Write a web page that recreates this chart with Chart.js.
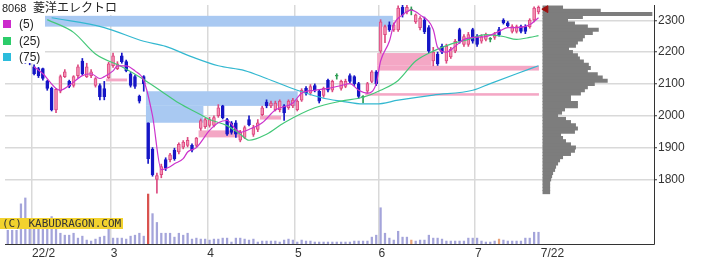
<!DOCTYPE html>
<html>
<head>
<meta charset="utf-8">
<script src="https://cdn.jsdelivr.net/npm/chart.js@4/dist/chart.umd.min.js"></script>
<style>
  html, body { margin: 0; padding: 0; background: #fff; }
</style>
</head>
<body>
<canvas id="graph" width="701" height="259"></canvas>
<script>
// 8068 daily candles, 2022/1/24 .. 2022/7/22 (index = trading day)
const code = '8068';
const name = '菱洋エレクトロ';

const opens  = [2290,2275,2262,2240,2190,2175,2154,2148,2148,2108,2086,2018,2077,2123,2108,2095,2126,2172,2123,2126,
                2095,2095,2085,2120,2157,2148,2188,2170,2132,2123,2061,2123,1978,1895,1800,1815,1862,1862,1892,1886,
                1901,1907,1907,1907,1960,1966,1970,1970,2000,2031,1988,1978,1978,1923,1932,1988,1941,1957,2003,2043,
                2031,2019,2019,2031,2025,2031,2019,2049,2086,2071,2095,2077,2064,2111,2080,2124,2086,2092,2126,2123,
                2101,2058,2077,2108,2138,2203,2255,2286,2270,2270,2341,2326,2332,2295,2277,2301,2277,2172,2194,2218,
                2172,2185,2203,2271,2224,2224,2271,2249,2234,2240,2240,2246,2271,2301,2292,2265,2265,2280,2280,2280,
                2301,2326];
const highs  = [2300,2290,2270,2245,2200,2180,2160,2152,2150,2112,2090,2086,2128,2145,2112,2126,2160,2180,2165,2145,
                2120,2100,2108,2168,2197,2170,2197,2175,2136,2128,2065,2126,1978,1900,1820,1848,1868,1882,1898,1915,
                1922,1932,1912,1932,1990,1992,1995,2000,2035,2033,1992,1982,1985,1954,1968,2000,1970,1988,2030,2050,
                2046,2046,2050,2035,2050,2055,2050,2085,2092,2098,2100,2080,2090,2115,2112,2132,2112,2115,2132,2126,
                2105,2063,2105,2142,2142,2302,2285,2295,2292,2345,2347,2347,2342,2320,2312,2310,2283,2215,2200,2225,
                2225,2215,2240,2275,2255,2262,2275,2255,2255,2260,2246,2262,2278,2305,2296,2286,2285,2285,2286,2305,
                2342,2345];
const lows   = [2270,2255,2235,2190,2165,2160,2128,2120,2112,2080,2015,2010,2072,2120,2088,2090,2120,2128,2120,2120,
                2090,2050,2050,2117,2152,2145,2165,2138,2090,2086,2040,2077,1850,1810,1757,1805,1828,1855,1860,1880,
                1896,1902,1886,1902,1954,1960,1964,1965,1995,1990,1938,1942,1932,1918,1928,1968,1935,1950,2000,2025,
                2025,2015,2012,1985,2020,2025,2015,2045,2065,2065,2075,2040,2058,2075,2075,2115,2080,2088,2102,2095,
                2055,2040,2071,2104,2095,2197,2230,2265,2265,2265,2310,2320,2317,2290,2270,2258,2198,2157,2158,2195,
                2165,2180,2198,2228,2218,2218,2228,2218,2228,2235,2232,2240,2250,2288,2278,2260,2260,2260,2258,2275,
                2295,2320];
const closes = [2280,2262,2240,2195,2175,2168,2132,2126,2117,2086,2018,2083,2123,2138,2092,2123,2154,2132,2154,2138,
                2117,2060,2060,2163,2188,2163,2170,2142,2095,2092,2046,2101,1865,1815,1812,1840,1835,1877,1865,1910,
                1917,1923,1892,1930,1985,1988,1988,1994,2025,1994,1942,1948,1942,1948,1963,1972,1963,1978,2025,2031,
                2040,2040,2046,2009,2046,2049,2046,2080,2071,2092,2080,2046,2086,2080,2108,2124,2108,2108,2108,2101,
                2061,2058,2101,2138,2101,2295,2280,2270,2286,2338,2317,2341,2332,2317,2307,2264,2203,2200,2163,2200,
                2218,2209,2234,2234,2249,2255,2234,2224,2249,2255,2240,2255,2255,2292,2283,2280,2280,2265,2265,2301,
                2338,2341];
// volume, thousand shares
const volumes = [56,56,56,164,188,88,88,80,80,96,112,104,44,36,36,44,24,32,16,12,
                 20,28,32,60,24,24,24,20,32,36,44,32,204,124,88,44,44,44,28,44,
                 36,44,20,24,20,20,16,20,20,24,24,8,24,24,20,16,20,8,12,12,
                 12,12,8,16,20,16,8,16,12,12,8,8,8,8,8,8,8,8,8,12,
                 12,12,12,28,36,148,44,24,16,52,28,28,16,12,16,16,36,24,24,20,
                 12,12,12,12,12,24,24,24,12,8,8,12,20,16,12,12,12,12,24,24,
                 48,48];

// moving averages (day index, price)
const ma5X  = [6,8,11,12,14,17,19,21,22,24,25,27,29,31,33,35,37,38,40,41,43,46,48,50,52,53,55,58,61,65,
               67,70,73,76,78,80,82,84,85,87,88,90,92,94,97,98,100,102,104,106,109,112,114,116,119,121];
const ma5Y  = [2154,2132,2086,2080,2095,2126,2132,2117,2123,2141,2157,2157,2141,2111,2000,1831,1840,1849,1865,1886,
               1900,1954,1978,1985,1957,1948,1957,1978,2018,2040,2071,2080,2086,2095,2101,2080,2071,2101,2172,2234,
               2286,2317,2332,2317,2271,2215,2200,2218,2240,2246,2249,2265,2277,2277,2286,2308];
const ma25X = [9,15,20,26,31,35,39,44,46,50,53,55,59,63,70,76,81,85,89,93,97,101,105,109,113,116,119,121];
const ma25Y = [2302,2262,2194,2154,2114,2077,2040,2003,1988,1969,1942,1923,1942,1978,2025,2046,2058,2080,2111,2172,
               2203,2225,2240,2255,2249,2240,2246,2252];
const ma75X = [10,22,31,36,42,48,54,59,66,72,76,81,84,89,97,106,110,116,121];
const ma75Y = [2308,2277,2234,2218,2185,2157,2142,2117,2080,2055,2046,2037,2037,2049,2065,2080,2101,2132,2157];

// unfilled price windows: from day, to day, low, high, kind
const boxFrom = [-1, 31.5, 31.5, 22.4, 43.5, 57.5, 81.5, 84.2, 84.2];
const boxTo   = [87.8, 66.1, 44.6, 27.2, 53, 62.3, 121.1, 96.6, 121.1];
const boxLow  = [2280, 2031, 1978, 2108, 1932, 1988, 2063, 2157, 2142];
const boxHigh = [2314, 2077, 2031, 2117, 1954, 2000, 2071, 2197, 2157];
const boxKind = ['down','down','down','up','up','up','up','up','up'];

// volume by price
const profPrices = [1760,1770,1780,1790,1800,1810,1820,1830,1840,1850,1860,1870,1880,1890,1900,1910,1920,1930,1940,1950,
                    1960,1970,1980,1990,2000,2010,2020,2030,2040,2050,2060,2070,2080,2090,2100,2110,2120,2130,2140,2150,
                    2160,2170,2180,2190,2200,2210,2220,2230,2240,2250,2260,2270,2280,2290,2300,2310,2320,2330,2340];
const profVols   = [7,7,7,7,8,9,10,12,13,15,17,20,28,32,33,28,23,20,18,32,
                    35,33,28,23,15,19,22,35,35,28,28,38,42,45,52,65,60,55,45,48,
                    46,41,37,35,30,26,33,35,40,42,50,56,45,32,25,40,110,58,20];
const lastMark = 2335;

const tickPos    = [5.5, 23.5, 45.5, 65.5, 84.5, 106.5, 121.5];
const tickLabels = ['22/2', '3', '4', '5', '6', '7', '7/22'];
const priceTicks = [1800, 1900, 2000, 2100, 2200, 2300];

const UP_FILL = '#f590b4', UP_EDGE = '#dc4a80', DN = '#1616c6', DOJI = '#2f9e54';
const VOL = '#a4a4da';
const volMark = { 32: '#d9534f', 92: '#e8a27a', 112: '#e8a27a' };

const idx = opens.map((_, i) => i);
const tone = i => closes[i] > opens[i] ? 'up' : (closes[i] < opens[i] ? 'dn' : 'doji');
const edge = i => ({ up: UP_EDGE, dn: DN, doji: DOJI })[tone(i)];
const fill = i => ({ up: UP_FILL, dn: DN, doji: DOJI })[tone(i)];

Chart.defaults.font.family = "'Liberation Sans', Arial, sans-serif";

const noPad = s => { s.paddingTop = 0; s.paddingBottom = 0; s.paddingLeft = 0; s.paddingRight = 0; };

const overlay = {
    id: 'overlay',
    beforeDatasetsDraw(chart) {
        const { ctx, chartArea: a, scales: { x, y } } = chart;
        ctx.save();
        ctx.beginPath();
        ctx.rect(a.left, a.top, a.right - a.left, a.bottom - a.top);
        ctx.clip();
        boxFrom.forEach((f, k) => {
            const x0 = x.getPixelForValue(f), x1 = x.getPixelForValue(boxTo[k]);
            const y0 = y.getPixelForValue(boxHigh[k]), y1 = y.getPixelForValue(boxLow[k]);
            ctx.fillStyle = boxKind[k] === 'up' ? '#f4a7c5' : '#a9c9f2';
            ctx.fillRect(x0, y0, x1 - x0, y1 - y0);
        });
        ctx.restore();
    },
    afterDraw(chart) {
        const ctx = chart.ctx;
        ctx.save();
        // title + legend
        ctx.fillStyle = '#fff';
        ctx.fillRect(0, 0, 125, 15);
        ctx.fillRect(0, 15, 45, 48);
        ctx.fillStyle = '#222';
        ctx.textBaseline = 'alphabetic';
        ctx.font = "11px 'Liberation Sans'";
        ctx.fillText(code, 2, 12);
        ctx.font = "12px 'Noto Sans CJK JP'";
        ctx.fillText(name, 33, 12);
        const items = [['(5)', '#cc2acc', 24], ['(25)', '#2ccc6a', 41], ['(75)', '#2cbcdc', 57]];
        items.forEach(([t, c, yy]) => {
            ctx.fillStyle = c;
            ctx.fillRect(3, yy - 4, 8, 8);
            ctx.fillStyle = '#222';
            ctx.font = "12px 'Liberation Sans'";
            ctx.textBaseline = 'middle';
            ctx.fillText(t, 19, yy + 1);
        });
        // copyright tag
        ctx.fillStyle = '#f2d22e';
        ctx.fillRect(0, 218, 123, 11);
        ctx.fillStyle = '#333';
        ctx.font = "11px 'DejaVu Sans Mono'";
        ctx.textBaseline = 'middle';
        ctx.fillText('(C) KABUDRAGON.COM', 2, 224);
        ctx.restore();
    }
};

let graph = document.getElementById('graph').getContext('2d');

let stat = new Chart(graph, {
    type: 'bar',
    data: {
        datasets: [
            { type: 'line', label: '(5)', data: ma5X.map((v, k) => ({ x: v, y: ma5Y[k] })),
              borderColor: '#cc33cc', borderWidth: 1.2, pointRadius: 0, cubicInterpolationMode: 'monotone', order: 0 },
            { type: 'line', label: '(25)', data: ma25X.map((v, k) => ({ x: v, y: ma25Y[k] })),
              borderColor: '#44c878', borderWidth: 1.2, pointRadius: 0, cubicInterpolationMode: 'monotone', order: 0 },
            { type: 'line', label: '(75)', data: ma75X.map((v, k) => ({ x: v, y: ma75Y[k] })),
              borderColor: '#33b8d0', borderWidth: 1.2, pointRadius: 0, cubicInterpolationMode: 'monotone', order: 0 },
            { type: 'scatter', label: 'last', xAxisID: 'xp', data: [{ x: 3, y: lastMark }],
              pointStyle: 'triangle', rotation: -90, radius: 4, backgroundColor: '#a01010', borderColor: '#a01010', order: 0 },
            { type: 'bar', label: 'body', data: idx.map(i => ({ x: i, y: [opens[i], closes[i]] })),
              backgroundColor: idx.map(fill), borderColor: idx.map(edge), borderWidth: 1, borderSkipped: false,
              barThickness: 3, minBarLength: 1, grouped: false, order: 1 },
            { type: 'bar', label: 'wick', data: idx.map(i => ({ x: i, y: [lows[i], highs[i]] })),
              backgroundColor: idx.map(edge), barThickness: 1, grouped: false, order: 2 },
            { type: 'bar', label: 'volume', yAxisID: 'yv', data: idx.map(i => ({ x: i, y: volumes[i] })),
              backgroundColor: idx.map(i => volMark[i] || VOL), barThickness: 1.6, grouped: false, order: 3 },
            { type: 'bar', label: 'profile', indexAxis: 'y', xAxisID: 'xp', yAxisID: 'y',
              data: profPrices.map((p, k) => ({ x: profVols[k], y: p })),
              backgroundColor: '#7d7d7d', barThickness: 3.4, grouped: false, order: 4 }
        ]
    },
    options: {
        responsive: false,
        animation: false,
        devicePixelRatio: 1,
        layout: { padding: 0 },
        plugins: { legend: { display: false }, tooltip: { enabled: false } },
        scales: {
            x: {
                type: 'linear', position: 'bottom', min: -0.633, max: 147.33, offset: false,
                afterBuildTicks: s => { s.ticks = tickPos.map(v => ({ value: v })); },
                afterFit: s => { s.height = 15; noPad(s); },
                ticks: { autoSkip: false, maxRotation: 0, align: 'start', padding: 2, color: '#333',
                         font: { size: 12 }, callback: (v, k) => tickLabels[k] },
                grid: { offset: false, drawTicks: false, lineWidth: 1.5,
                        color: c => (c.tick && c.tick.value === 121.5) ? 'rgba(0,0,0,0)' : '#d9d9d9' },
                border: { color: '#333', width: 1 }
            },
            y: {
                type: 'linear', position: 'right', min: 1597, max: 2348, offset: false,
                afterBuildTicks: s => { s.ticks = priceTicks.map(v => ({ value: v })); },
                afterFit: s => { s.width = 47; noPad(s); },
                ticks: { padding: 1, color: '#333', font: { size: 12 }, callback: v => String(v) },
                grid: { offset: false, color: '#d9d9d9', lineWidth: 1.5, tickLength: 3, tickColor: '#333', tickWidth: 1 },
                border: { color: '#333', width: 1 }
            },
            yv: { type: 'linear', axis: 'y', display: false, min: 0, max: 976, offset: false },
            xp: { type: 'linear', axis: 'x', display: false, min: -542, max: 112, offset: false }
        }
    },
    plugins: [overlay]
});
</script>
</body>
</html>
